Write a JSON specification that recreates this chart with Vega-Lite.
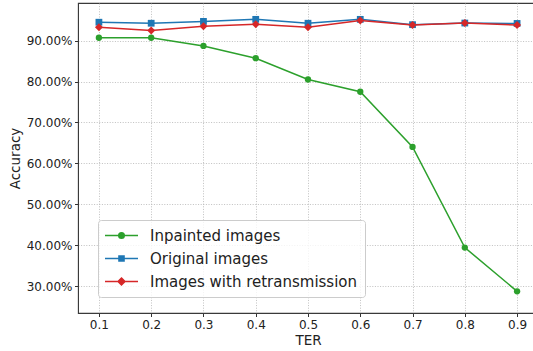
{
  "$schema": "https://vega.github.io/schema/vega-lite/v6.json",
  "width": 460,
  "height": 310,
  "autosize": {"type": "none"},
  "padding": {"left": 78, "top": 3, "right": 0, "bottom": 38},
  "background": "white",
  "config": {
    "font": "DejaVu Sans",
    "view": {"stroke": "#3a3a3a", "strokeWidth": 1.1}
  },
  "data": {
    "values": [
      {"TER": 0.1, "series": "Inpainted images", "acc": 0.907},
      {"TER": 0.2, "series": "Inpainted images", "acc": 0.907},
      {"TER": 0.3, "series": "Inpainted images", "acc": 0.887},
      {"TER": 0.4, "series": "Inpainted images", "acc": 0.857},
      {"TER": 0.5, "series": "Inpainted images", "acc": 0.805},
      {"TER": 0.6, "series": "Inpainted images", "acc": 0.775},
      {"TER": 0.7, "series": "Inpainted images", "acc": 0.640},
      {"TER": 0.8, "series": "Inpainted images", "acc": 0.394},
      {"TER": 0.9, "series": "Inpainted images", "acc": 0.287},
      {"TER": 0.1, "series": "Original images", "acc": 0.945},
      {"TER": 0.2, "series": "Original images", "acc": 0.9425},
      {"TER": 0.3, "series": "Original images", "acc": 0.947},
      {"TER": 0.4, "series": "Original images", "acc": 0.952},
      {"TER": 0.5, "series": "Original images", "acc": 0.9425},
      {"TER": 0.6, "series": "Original images", "acc": 0.952},
      {"TER": 0.7, "series": "Original images", "acc": 0.939},
      {"TER": 0.8, "series": "Original images", "acc": 0.943},
      {"TER": 0.9, "series": "Original images", "acc": 0.942},
      {"TER": 0.1, "series": "Images with retransmission", "acc": 0.933},
      {"TER": 0.2, "series": "Images with retransmission", "acc": 0.925},
      {"TER": 0.3, "series": "Images with retransmission", "acc": 0.935},
      {"TER": 0.4, "series": "Images with retransmission", "acc": 0.940},
      {"TER": 0.5, "series": "Images with retransmission", "acc": 0.933},
      {"TER": 0.6, "series": "Images with retransmission", "acc": 0.949},
      {"TER": 0.7, "series": "Images with retransmission", "acc": 0.938},
      {"TER": 0.8, "series": "Images with retransmission", "acc": 0.943},
      {"TER": 0.9, "series": "Images with retransmission", "acc": 0.938}
    ]
  },
  "encoding": {
    "x": {
      "field": "TER", "type": "quantitative",
      "scale": {"domain": [0.06, 0.94], "nice": false, "zero": false},
      "axis": {
        "title": "TER", "values": [0.1, 0.2, 0.3, 0.4, 0.5, 0.6, 0.7, 0.8, 0.9], "format": ".1f",
        "labelFontSize": 12, "titleFontSize": 13.5, "titleFontWeight": "normal",
        "labelColor": "#222", "titleColor": "#222",
        "tickSize": 3.5, "tickColor": "#333", "labelPadding": 3, "titlePadding": 3,
        "domainColor": "#3a3a3a",
        "grid": true, "gridColor": "#b0b0b0", "gridDash": [1, 1.6], "gridWidth": 0.8
      }
    },
    "y": {
      "field": "acc", "type": "quantitative",
      "scale": {"domain": [0.234, 0.992], "nice": false, "zero": false},
      "axis": {
        "title": "Accuracy", "values": [0.3, 0.4, 0.5, 0.6, 0.7, 0.8, 0.9], "format": ".2%",
        "labelFontSize": 12, "titleFontSize": 13.5, "titleFontWeight": "normal",
        "labelColor": "#222", "titleColor": "#222",
        "tickSize": 3.5, "tickColor": "#333", "labelPadding": 2.5, "titlePadding": 4,
        "domainColor": "#3a3a3a",
        "grid": true, "gridColor": "#b0b0b0", "gridDash": [1, 1.6], "gridWidth": 0.8
      }
    },
    "color": {
      "field": "series", "type": "nominal",
      "scale": {
        "domain": ["Inpainted images", "Original images", "Images with retransmission"],
        "range": ["#2ca02c", "#1f77b4", "#d62728"]
      },
      "legend": {
        "orient": "none", "legendX": 20, "legendY": 217, "title": null,
        "labelFontSize": 15, "labelColor": "#222", "labelLimit": 400, "symbolSize": 225,
        "padding": 7, "fillColor": "rgba(255,255,255,0.8)", "strokeColor": "#cccccc",
        "cornerRadius": 3, "rowPadding": 6, "symbolOffset": 8, "labelOffset": 20,
        "encode": {
          "symbols": {
            "update": {
              "shape": {"signal": "datum.value === 'Inpainted images' ? 'M-2.2,0L2.2,0 M0.37,0A0.37,0.37 0 1,1 -0.37,0A0.37,0.37 0 1,1 0.37,0Z' : datum.value === 'Original images' ? 'M-2.2,0L2.2,0 M-0.34,-0.34L0.34,-0.34L0.34,0.34L-0.34,0.34Z' : 'M-2.2,0L2.2,0 M0,-0.46L0.46,0L0,0.46L-0.46,0Z'"},
              "size": {"value": 225},
              "fill": {"scale": "color", "field": "value"},
              "stroke": {"scale": "color", "field": "value"},
              "fillOpacity": {"value": 1},
              "strokeOpacity": {"value": 1},
              "strokeWidth": {"value": 1.5}
            }
          }
        }
      }
    }
  },
  "layer": [
    {"mark": {"type": "line", "strokeWidth": 1.5}},
    {
      "transform": [{"filter": "datum.series === 'Inpainted images'"}],
      "mark": {"type": "point", "shape": "circle", "size": 40, "filled": true, "opacity": 1}
    },
    {
      "transform": [{"filter": "datum.series === 'Original images'"}],
      "mark": {"type": "point", "shape": "square", "size": 46, "filled": true, "opacity": 1}
    },
    {
      "transform": [{"filter": "datum.series === 'Images with retransmission'"}],
      "mark": {"type": "point", "shape": "diamond", "size": 64, "filled": true, "opacity": 1}
    }
  ]
}
